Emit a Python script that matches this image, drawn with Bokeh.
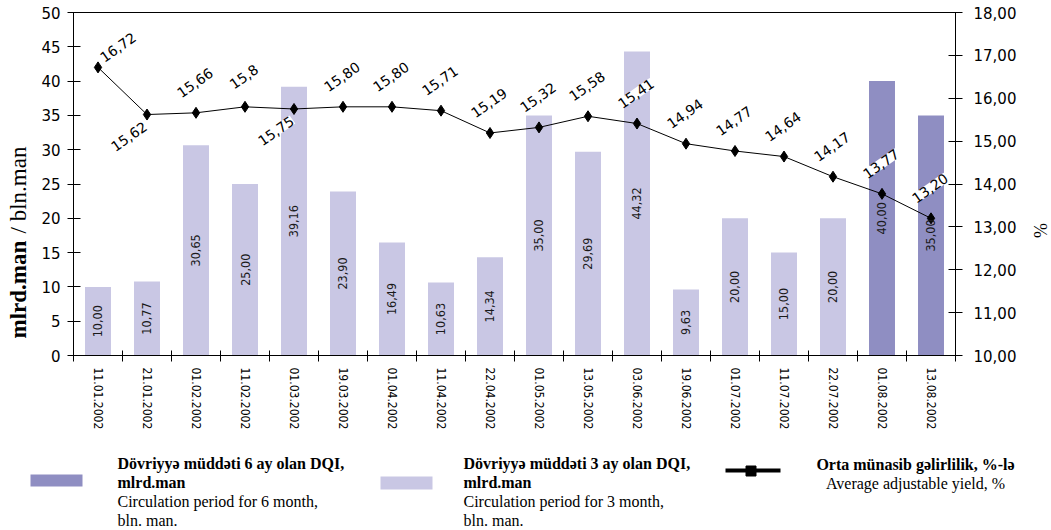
import math
from bokeh.plotting import figure
from bokeh.models import (Range1d, LinearAxis, FixedTicker, CustomJSTickFormatter,
                          ColumnDataSource, LabelSet, Label)
from bokeh.core.properties import value
from bokeh.layouts import column, row
from bokeh.embed import file_html
from bokeh.resources import INLINE

# ---------------- data ----------------
dates = ["11.01.2002", "21.01.2002", "01.02.2002", "11.02.2002", "01.03.2002",
         "19.03.2002", "01.04.2002", "11.04.2002", "22.04.2002", "01.05.2002",
         "13.05.2002", "03.06.2002", "19.06.2002", "01.07.2002", "11.07.2002",
         "22.07.2002", "01.08.2002", "13.08.2002"]
three_month = [10.00, 10.77, 30.65, 25.00, 39.16, 23.90, 16.49, 10.63, 14.34,
               35.00, 29.69, 44.32, 9.63, 20.00, 15.00, 20.00, None, None]
six_month = [None] * 16 + [40.00, 35.00]
yield_pct = [16.72, 15.62, 15.66, 15.80, 15.75, 15.80, 15.80, 15.71, 15.19,
             15.32, 15.58, 15.41, 14.94, 14.77, 14.64, 14.17, 13.77, 13.20]
yield_text = ["16,72", "15,62", "15,66", "15,8", "15,75", "15,80", "15,80", "15,71",
              "15,19", "15,32", "15,58", "15,41", "14,94", "14,77", "14,64", "14,17",
              "13,77", "13,20"]
yield_label_side = ["ne", "sw", "n", "n", "sw", "n", "n", "n", "n", "n", "n", "n",
                    "n", "n", "n", "n", "n", "n"]
left_ticks = [0, 5, 10, 15, 20, 25, 30, 35, 40, 45, 50]
right_ticks = [10, 11, 12, 13, 14, 15, 16, 17, 18]

LIGHT = "#C9C7E4"
DARK = "#8F8EC2"
COND = "DejaVu Sans Condensed"
SERIF = "Liberation Serif"

TITLE_W = 36          # strip holding the left axis title
RIGHT_W = 25          # strip holding the right axis title
MAIN_H = 430          # height of the chart row
LEG_H = 98            # height of the legend strip
FULL_W = 1050
FRAME_L, FRAME_W = 73, 882
FRAME_T, FRAME_H = 12, 343
BOTTOM = MAIN_H - FRAME_T - FRAME_H
P_RIGHT = FULL_W - RIGHT_W - FRAME_L - FRAME_W

# ---------------- chart figure ----------------
n = len(dates)
p = figure(frame_width=FRAME_W, frame_height=FRAME_H,
           min_border_left=FRAME_L - TITLE_W, min_border_right=P_RIGHT,
           min_border_top=FRAME_T, min_border_bottom=BOTTOM,
           x_range=Range1d(0, n), y_range=Range1d(0, 50),
           output_backend="svg", toolbar_location=None)
p.xgrid.visible = False
p.ygrid.visible = False
p.outline_line_color = "black"
p.outline_line_width = 1
p.background_fill_color = "white"
p.border_fill_color = "white"
p.extra_y_ranges = {"pct": Range1d(10, 18)}


def fmt(v):
    return f"{v:.2f}".replace(".", ",")


def bar_source(vals):
    xs, tops, mids, txt = [], [], [], []
    for i, v in enumerate(vals):
        if v is None:
            continue
        xs.append(i + 0.5)
        tops.append(v)
        mids.append(v / 2)
        txt.append(fmt(v))
    return ColumnDataSource(dict(x=xs, top=tops, mid=mids, txt=txt))


src3 = bar_source(three_month)
src6 = bar_source(six_month)
p.vbar(x="x", top="top", bottom=0, width=0.53, source=src3, fill_color=LIGHT, line_color=None)
p.vbar(x="x", top="top", bottom=0, width=0.53, source=src6, fill_color=DARK, line_color=None)

for s in (src3, src6):
    p.add_layout(LabelSet(x="x", y="mid", text="txt", source=s, angle=math.pi / 2,
                          text_align="center", text_baseline="middle",
                          text_font=value(COND), text_font_size=value("12.5px"),
                          text_color="#1a1a1a"))

# yield line
lx = [i + 0.5 for i in range(n)]
side_off = {"n": (-1, 30), "ne": (20, 20), "sw": (-18, -22)}
lsrc = ColumnDataSource(dict(x=lx, y=yield_pct, txt=yield_text,
                             xo=[side_off[s][0] for s in yield_label_side],
                             yo=[side_off[s][1] for s in yield_label_side]))
p.line(x="x", y="y", source=lsrc, y_range_name="pct", line_color="black", line_width=1)
p.scatter(x="x", y="y", source=lsrc, y_range_name="pct", marker="diamond", size=11,
          fill_color="black", line_color="black")
p.add_layout(LabelSet(x="x", y="y", text="txt", source=lsrc, y_range_name="pct",
                      x_offset="xo", y_offset="yo", angle=math.radians(35),
                      text_align="center", text_baseline="middle",
                      text_font=value("DejaVu Sans"), text_font_size=value("14px"),
                      text_color="black", background_fill_color="white"))

# axes
xa = p.xaxis[0]
xa.ticker = FixedTicker(ticks=lx, minor_ticks=list(range(n + 1)))
xa.formatter = CustomJSTickFormatter(args=dict(labels=dates),
                                     code="return labels[Math.floor(tick)] || '';")
xa.major_label_orientation = "vertical"
xa.major_tick_line_color = None
xa.minor_tick_line_color = "black"
xa.minor_tick_in = 5
xa.minor_tick_out = 6
xa.major_label_standoff = 6
xa.major_label_text_font = COND
xa.major_label_text_font_size = "12px"
xa.major_label_text_color = "black"
xa.axis_line_color = "black"

ya = p.yaxis[0]
ya.ticker = FixedTicker(ticks=left_ticks, minor_ticks=[])
ya.major_tick_in = 7
ya.major_tick_out = 6
ya.minor_tick_line_color = None
ya.major_label_standoff = 7
ya.major_label_text_font = "DejaVu Sans"
ya.major_label_text_font_size = "15px"
ya.major_label_text_color = "black"
ya.axis_line_color = "black"

ra = LinearAxis(y_range_name="pct", ticker=FixedTicker(ticks=right_ticks, minor_ticks=[]),
                formatter=CustomJSTickFormatter(code="return tick.toFixed(2).replace('.', ',');"))
ra.major_tick_in = 7
ra.major_tick_out = 7
ra.minor_tick_line_color = None
ra.major_label_standoff = 11
ra.major_label_text_font = "DejaVu Sans"
ra.major_label_text_font_size = "15px"
ra.major_label_text_color = "black"
ra.axis_line_color = "black"
p.add_layout(ra, "right")


def strip(x0, w):
    """A blank figure whose data units are page pixels (y grows downwards)."""
    f = figure(frame_width=w, frame_height=FRAME_H, min_border_left=0, min_border_right=0,
               min_border_top=FRAME_T, min_border_bottom=BOTTOM,
               x_range=Range1d(x0, x0 + w), y_range=Range1d(FRAME_T + FRAME_H, FRAME_T),
               output_backend="svg", toolbar_location=None)
    f.axis.visible = False
    f.grid.visible = False
    f.outline_line_color = None
    return f


# ---------------- left title strip ----------------
tf = strip(0, TITLE_W)
tf.add_layout(Label(x=18, y=338, text="mlrd.man", angle=math.pi / 2,
                    text_align="left", text_baseline="middle", text_font=SERIF,
                    text_font_style="bold", text_font_size="23px", text_color="black"))
tf.add_layout(Label(x=18, y=233, text="/ bln.man", angle=math.pi / 2,
                    text_align="left", text_baseline="middle", text_font=SERIF,
                    text_font_size="23px", text_color="black"))

# ---------------- right title strip ----------------
rf = strip(FULL_W - RIGHT_W, RIGHT_W)
rf.add_layout(Label(x=1040, y=230, text="%", angle=math.pi / 2,
                    text_align="center", text_baseline="middle", text_font=SERIF,
                    text_font_size="18px", text_color="black"))

# ---------------- legend strip (data units = page pixels) ----------------
leg = figure(width=FULL_W, height=LEG_H, min_border=0,
             x_range=Range1d(0, FULL_W), y_range=Range1d(MAIN_H + LEG_H, MAIN_H),
             output_backend="svg", toolbar_location=None)
leg.axis.visible = False
leg.grid.visible = False
leg.outline_line_color = None

leg.quad(left=[30], right=[82], top=[472], bottom=[484], fill_color=DARK, line_color=None)
leg.quad(left=[380], right=[432], top=[474], bottom=[487], fill_color=LIGHT, line_color=None)
leg.line(x=[725, 780], y=[468, 468], line_color="black", line_width=4)
leg.scatter(x=[750.5], y=[468.5], marker="square", size=10, fill_color="black",
            line_color="black")

legend_items = [
    (117, "left", 461, ["Dövriyyə müddəti 6 ay olan DQI,", "mlrd.man"],
     ["Circulation period for 6 month,", "bln. man."]),
    (463, "left", 461, ["Dövriyyə müddəti 3 ay olan DQI,", "mlrd.man"],
     ["Circulation period for 3 month,", "bln. man."]),
    (915, "center", 462, ["Orta münasib gəlirlilik, %-lə"], ["Average adjustable yield, %"]),
]
for lxp, align, yy, bold_lines, reg_lines in legend_items:
    for t in bold_lines:
        leg.add_layout(Label(x=lxp, y=yy, text=t, text_align=align, text_baseline="alphabetic",
                             text_font=SERIF, text_font_style="bold",
                             text_font_size="16px", text_color="black"))
        yy += 19
    for t in reg_lines:
        leg.add_layout(Label(x=lxp, y=yy, text=t, text_align=align, text_baseline="alphabetic",
                             text_font=SERIF, text_font_size="16px", text_color="black"))
        yy += 19

layout = column(row(tf, p, rf), leg)
open("out.html", "w").write(file_html(layout, INLINE))
